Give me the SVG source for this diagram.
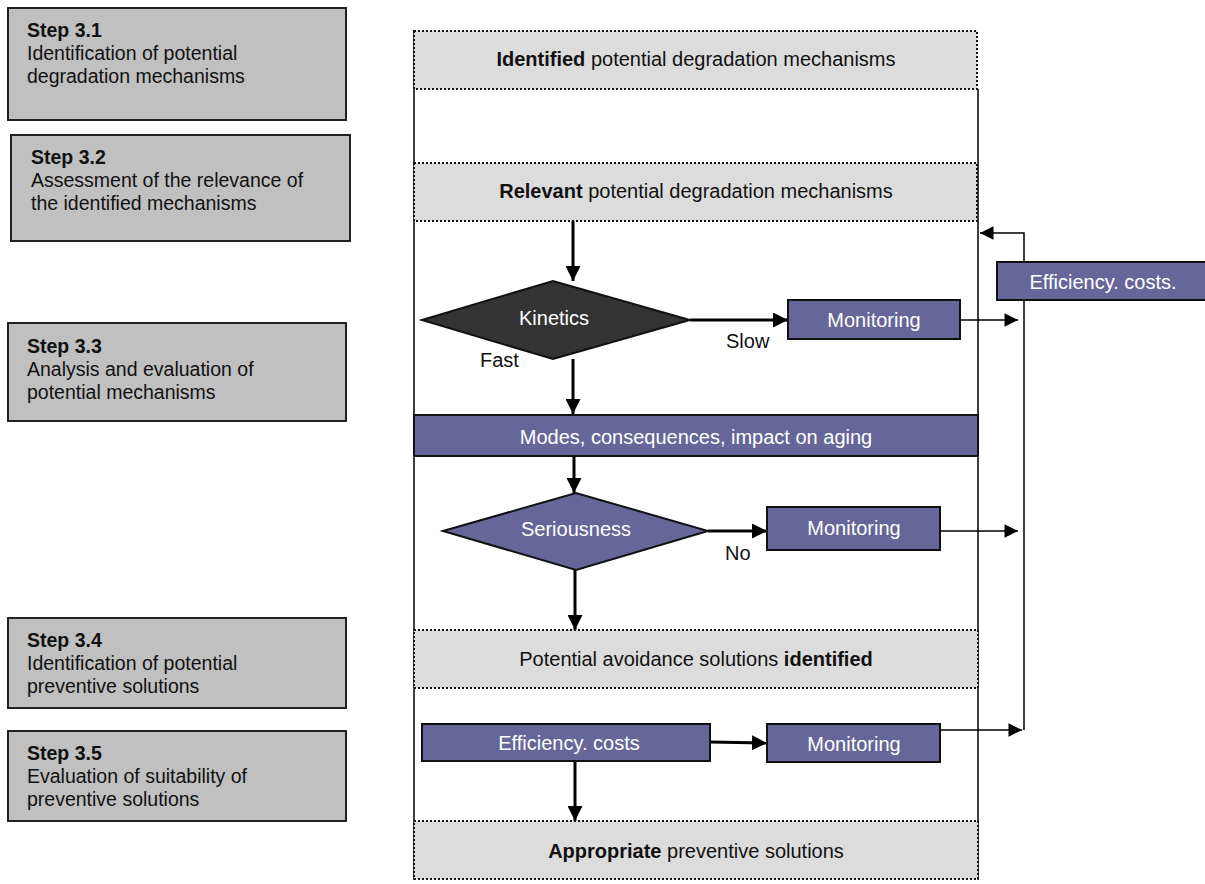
<svg xmlns="http://www.w3.org/2000/svg" width="1205" height="884" viewBox="0 0 1205 884">
<defs>
<style>
text{font-family:"Liberation Sans",Arial,sans-serif;}
.step rect{fill:#c0c0c0;stroke:#222;stroke-width:2;}
.step text{font-size:19.5px;fill:#111;}
.b{font-weight:bold;}
.gray rect{fill:#dcdcdc;stroke:#111;stroke-width:2;stroke-dasharray:2 2;}
.gray text{font-size:20px;fill:#111;text-anchor:middle;}
.pur rect,.pur polygon{fill:#666699;stroke:#111;stroke-width:2;}
.pur text{font-size:20px;fill:#fff;text-anchor:middle;}
.lbl{font-size:20px;fill:#111;}
.thick{stroke:#000;stroke-width:3;fill:none;}
.thin{stroke:#000;stroke-width:1.5;fill:none;}
.frame{stroke:#000;stroke-width:1.5;fill:none;}
</style>
<marker id="ah" viewBox="0 0 10 10" refX="10" refY="5" markerWidth="5" markerHeight="5" orient="auto" markerUnits="strokeWidth"><path d="M0,0 L10,5 L0,10 z" fill="#000"/></marker>
<marker id="ah2" viewBox="0 0 10 10" refX="10" refY="5" markerWidth="10" markerHeight="9" orient="auto" markerUnits="strokeWidth"><path d="M0,0 L10,5 L0,10 z" fill="#000"/></marker>
</defs>

<g id="step31" class="step"><rect x="8" y="8" width="338" height="112"/><text x="27" y="37" class="b">Step 3.1</text><text x="27" y="60">Identification of potential</text><text x="27" y="83">degradation mechanisms</text></g>
<g id="step32" class="step"><rect x="11" y="135" width="339" height="106"/><text x="31" y="164" class="b">Step 3.2</text><text x="31" y="187">Assessment of the relevance of</text><text x="31" y="210">the identified mechanisms</text></g>
<g id="step33" class="step"><rect x="8" y="323" width="338" height="98"/><text x="27" y="353" class="b">Step 3.3</text><text x="27" y="376">Analysis and evaluation of</text><text x="27" y="399">potential mechanisms</text></g>
<g id="step34" class="step"><rect x="8" y="618" width="338" height="90"/><text x="27" y="647" class="b">Step 3.4</text><text x="27" y="670">Identification of potential</text><text x="27" y="693">preventive solutions</text></g>
<g id="step35" class="step"><rect x="8" y="731" width="338" height="90"/><text x="27" y="760" class="b">Step 3.5</text><text x="27" y="783">Evaluation of suitability of</text><text x="27" y="806">preventive solutions</text></g>

<g id="frame"><line class="frame" x1="414" y1="30" x2="414" y2="880"/><line class="frame" x1="978" y1="89" x2="978" y2="880"/></g>

<g id="connectors">
<line class="thick" x1="573" y1="221" x2="573" y2="281" marker-end="url(#ah)"/>
<line class="thick" x1="690" y1="320" x2="788" y2="320" marker-end="url(#ah)"/>
<line class="thin" x1="960" y1="320" x2="1018" y2="320" marker-end="url(#ah2)"/>
<line class="thick" x1="573" y1="359" x2="573" y2="414" marker-end="url(#ah)"/>
<line class="thick" x1="574" y1="456" x2="574" y2="493" marker-end="url(#ah)"/>
<line class="thick" x1="708" y1="531" x2="767" y2="531" marker-end="url(#ah)"/>
<line class="thin" x1="940" y1="531" x2="1018" y2="531" marker-end="url(#ah2)"/>
<line class="thick" x1="575" y1="570" x2="575" y2="630" marker-end="url(#ah)"/>
<line class="thick" x1="710" y1="742" x2="767" y2="743" marker-end="url(#ah)"/>
<line class="thin" x1="940" y1="730" x2="1022" y2="730" marker-end="url(#ah2)"/>
<line class="thick" x1="575" y1="761" x2="575" y2="821" marker-end="url(#ah)"/>
<polyline class="thin" points="1024,730 1024,233 980,233" marker-end="url(#ah2)"/>
</g>

<g id="identified" class="gray"><rect x="414" y="31" width="563" height="58"/><text x="696" y="66"><tspan font-weight="bold">Identified</tspan> potential degradation mechanisms</text></g>
<g id="relevant" class="gray"><rect x="414" y="163" width="563" height="58"/><text x="696" y="198"><tspan font-weight="bold">Relevant</tspan> potential degradation mechanisms</text></g>

<g id="kinetics" class="pur"><polygon points="422,320 553,281 690,320 553,359" style="fill:#333333"/><text x="554" y="325">Kinetics</text></g>
<text class="lbl" x="726" y="348">Slow</text>
<text class="lbl" x="480" y="367">Fast</text>
<g id="mon1" class="pur"><rect x="788" y="300" width="172" height="39"/><text x="874" y="327">Monitoring</text></g>

<g id="modes" class="pur"><rect x="414" y="415" width="564" height="41"/><text x="696" y="444">Modes, consequences, impact on aging</text></g>

<g id="seriousness" class="pur"><polygon points="443,531 576,493 708,531 576,570"/><text x="576" y="536">Seriousness</text></g>
<text class="lbl" x="725" y="560">No</text>
<g id="mon2" class="pur"><rect x="767" y="507" width="173" height="43"/><text x="854" y="535">Monitoring</text></g>

<g id="avoidance" class="gray"><rect x="414" y="630" width="564" height="58"/><text x="696" y="666">Potential avoidance solutions <tspan font-weight="bold">identified</tspan></text></g>

<g id="eff1" class="pur"><rect x="422" y="724" width="288" height="37"/><text x="569" y="750">Efficiency. costs</text></g>
<g id="mon3" class="pur"><rect x="767" y="724" width="173" height="38"/><text x="854" y="751">Monitoring</text></g>

<g id="appropriate" class="gray"><rect x="414" y="821" width="564" height="58"/><text x="696" y="858"><tspan font-weight="bold">Appropriate</tspan> preventive solutions</text></g>

<g id="eff2" class="pur"><rect x="997" y="262" width="210" height="38"/><text x="1103" y="289">Efficiency. costs.</text></g>
</svg>
